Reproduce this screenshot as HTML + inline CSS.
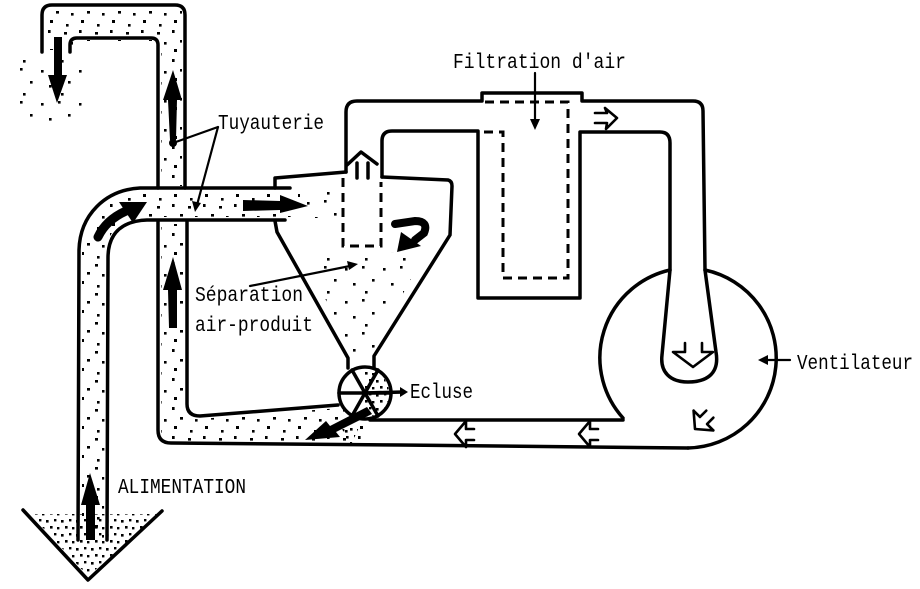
<!DOCTYPE html>
<html>
<head>
<meta charset="utf-8">
<style>
html,body{margin:0;padding:0;background:#fff;}
svg{display:block;}
text{font-family:"Liberation Mono","DejaVu Sans Mono",monospace;font-size:21px;fill:#000;}
</style>
</head>
<body>
<svg width="920" height="589" viewBox="0 0 920 589" xmlns="http://www.w3.org/2000/svg">
<defs>
<pattern id="d" width="31" height="29" patternUnits="userSpaceOnUse">
<rect x="2" y="3" width="3" height="2.6"/>
<rect x="17" y="1" width="2.6" height="3"/>
<rect x="25" y="11" width="3" height="2.6"/>
<rect x="9" y="13" width="2.6" height="2.6"/>
<rect x="19" y="20" width="3" height="3"/>
<rect x="4" y="24" width="2.6" height="2.6"/>
</pattern>
<pattern id="dd" width="15" height="14" patternUnits="userSpaceOnUse">
<rect x="1" y="2" width="2.6" height="2.6"/>
<rect x="9" y="1" width="2.4" height="2.4"/>
<rect x="5" y="8" width="2.6" height="2.6"/>
<rect x="12" y="9" width="2.4" height="2.4"/>
</pattern>
<pattern id="ds" width="38" height="33" patternUnits="userSpaceOnUse">
<rect x="3" y="4" width="2.6" height="2.6"/>
<rect x="20" y="2" width="2.6" height="2.6"/>
<rect x="30" y="15" width="2.6" height="2.6"/>
<rect x="11" y="19" width="2.6" height="2.6"/>
<rect x="23" y="27" width="2.6" height="2.6"/>
</pattern>
</defs>

<!-- stipple fills -->
<g stroke="none">
<path fill="url(#d)" d="M45,9 L182,9 L182,186 L161,186 L161,41 L73,41 L73,50 L45,50 Z"/>
<path fill="url(#ds)" d="M15,55 L85,55 L80,125 L20,125 Z"/>
<path fill="url(#d)" d="M120,191 L300,191 L300,217 L120,217 Z"/>
<path fill="url(#ds)" d="M300,192 L345,192 L345,218 L300,218 Z"/>
<path fill="url(#d)" d="M82,250 C84,215 105,193 140,191 L140,217 C118,220 105,235 105,258 L104,538 L82,538 Z"/>
<path fill="url(#d)" d="M161,224 L184,224 L184,440 L161,440 Z"/>
<path fill="url(#d)" d="M161,420 L200,419 L340,408 L368,420 L368,443 L161,441 Z"/>
<path fill="url(#dd)" d="M30,514 L160,514 L88,576 Z"/>
<path fill="url(#ds)" d="M305,255 L425,252 L372,352 L350,352 Z"/>
<path fill="url(#dd)" d="M365,369 A24,24 0 0 1 365,417 Z"/>
<path fill="url(#dd)" d="M340,424 L360,425 L350,447 Z"/>
</g>

<g fill="none" stroke="#000" stroke-width="3.5" stroke-linecap="round" stroke-linejoin="round">
<!-- top pipe -->
<path d="M42,52 L42,15 Q42,5 52,5 L175,5 Q185,5 185,15 L185,188"/>
<path d="M70,52 L70,45 Q70,38 77,38 L151,38 Q158,38 158,45 L158,188"/>
<!-- horizontal pipe + left pipe -->
<path d="M290,188 L140,188 C105,190 80,215 79,250 L78,540"/>
<path d="M285,220 L147,220 C120,221 108,235 108,258 L107,540"/>
<!-- funnel -->
<path d="M23,510 L88,580 L162,511"/>
<!-- lower vertical pipe and bottom pipe -->
<path d="M158,222 L158,430 Q158,443 171,443 L400,445 L688,448"/>
<path d="M187,222 L187,404 Q187,416 200,416 L338,405"/>
<path d="M370,420 L623,420"/>
<!-- cyclone -->
<path d="M275,188 L275,178 L346,172"/>
<path d="M382,177 L448,180 Q452,181 452,186 L450,235 L374,356 L374,368"/>
<path d="M275,221 L277,232 L348,358 L348,368"/>
<!-- vent top -->
<path d="M347,165 L361,152 L377,164"/>
<path d="M357,163 L357,178 M368,163 L368,178"/>
<!-- upper duct -->
<path d="M346,172 L346,112 Q346,101 357,101 L482,101 L482,93 L582,93 L582,101 L693,101 Q703,101 703,111 L705,270 L716,352 C720,375 705,382 688,382 C670,382 660,372 662,355 L670,270 L670,143 Q670,132 660,132 L580,132 L580,298 L478,298 L478,131 L392,131 Q382,131 382,141 L382,177"/>
<!-- fan volute -->
<path d="M670,270 A90,90 0 0 0 623,418"/>
<path d="M705,270 A90,90 0 0 1 688,448"/>
<!-- ecluse -->
<circle cx="365" cy="393" r="26"/>
<path d="M339,393 L391,393 M352,370 L378,416 M352,416 L378,370"/>
<path d="M365,393 L403,392"/>
</g>

<!-- dashed elements -->
<g fill="none" stroke="#000" stroke-width="3" stroke-dasharray="9 6">
<path d="M343,178 L343,246 L381,246 L381,182"/>
<path d="M485,102 L568,102 L568,278 L503,278 L503,132 L482,132"/>
</g>

<!-- leaders -->
<g fill="none" stroke="#000" stroke-width="2.2" stroke-linecap="round">
<path d="M218,127 L173,143"/>
<path d="M218,127 L197,205"/>
<path d="M250,286 L350,266"/>
<path d="M535,73 L535,122"/>
<path d="M790,360 L766,360"/>
</g>
<g fill="#000" stroke="none">
<polygon points="195,212 192,201 201,203"/>
<polygon points="358,264 347,261 349,270"/>
<polygon points="535,130 530,119 540,119"/>
<polygon points="758,360 768,355 768,365"/>
<polygon points="408,392 400,387 400,397"/>
<circle cx="173" cy="143" r="4"/>
</g>

<!-- hollow arrows -->
<g fill="none" stroke="#000" stroke-width="2.6" stroke-linejoin="round" stroke-linecap="round">
<path d="M595,113 L607,113 L605,108 L617,118 L606,129 L607,123 L595,123"/>
<path d="M685,343 L685,352 L673,352 L693,367 L713,352 L702,352 L702,343"/>
<path transform="translate(695,429) rotate(-45)" d="M12,-14 L0,0 L12,14 M12,-14 L12,-5 L21,-5 M12,14 L12,5 L21,5"/>
<path d="M466,421 L455,434 L466,447 M466,421 L466,429 L474,429 M466,447 L466,440 L474,440"/>
<path d="M590,421 L579,434 L590,447 M590,421 L590,429 L598,429 M590,447 L590,440 L598,440"/>
</g>

<!-- black flow arrows -->
<g fill="#000" stroke="none">
<polygon points="54,37 62,37 62,75 67,75 57,103 48,75 54,75"/>
<polygon points="173,70 182,100 177,100 176,140 170,140 168,100 163,100"/>
<polygon points="173,257 182,290 177,290 177,328 169,328 168,290 163,290"/>
<polygon points="90,473 100,505 95,505 95,540 86,540 86,505 81,505"/>
<polygon points="243,200 280,201 280,195 308,206 280,213 280,210 243,211"/>
<polygon points="147,202 119,202 133,223"/>
<polygon points="305,440 326,421 330,426 367,407 372,414 336,432 340,437"/>
<polygon points="397,252 401,232 421,246"/>
</g>
<g fill="none" stroke="#000" stroke-linecap="round">
<path d="M98,237 Q106,220 126,211" stroke-width="9"/>
<path d="M395,224 L415,221 Q429,221 424,233 L415,240" stroke-width="8"/>
</g>

<!-- labels -->
<text x="453" y="68" textLength="173" lengthAdjust="spacingAndGlyphs">Filtration d'air</text>
<text x="218" y="129" textLength="106" lengthAdjust="spacingAndGlyphs">Tuyauterie</text>
<text x="195" y="301" textLength="108" lengthAdjust="spacingAndGlyphs">Séparation</text>
<text x="195" y="331" textLength="118" lengthAdjust="spacingAndGlyphs">air-produit</text>
<text x="410" y="398" textLength="63" lengthAdjust="spacingAndGlyphs">Ecluse</text>
<text x="797" y="369" textLength="116" lengthAdjust="spacingAndGlyphs">Ventilateur</text>
<text x="118" y="493" textLength="128" lengthAdjust="spacingAndGlyphs">ALIMENTATION</text>
</svg>
</body>
</html>
